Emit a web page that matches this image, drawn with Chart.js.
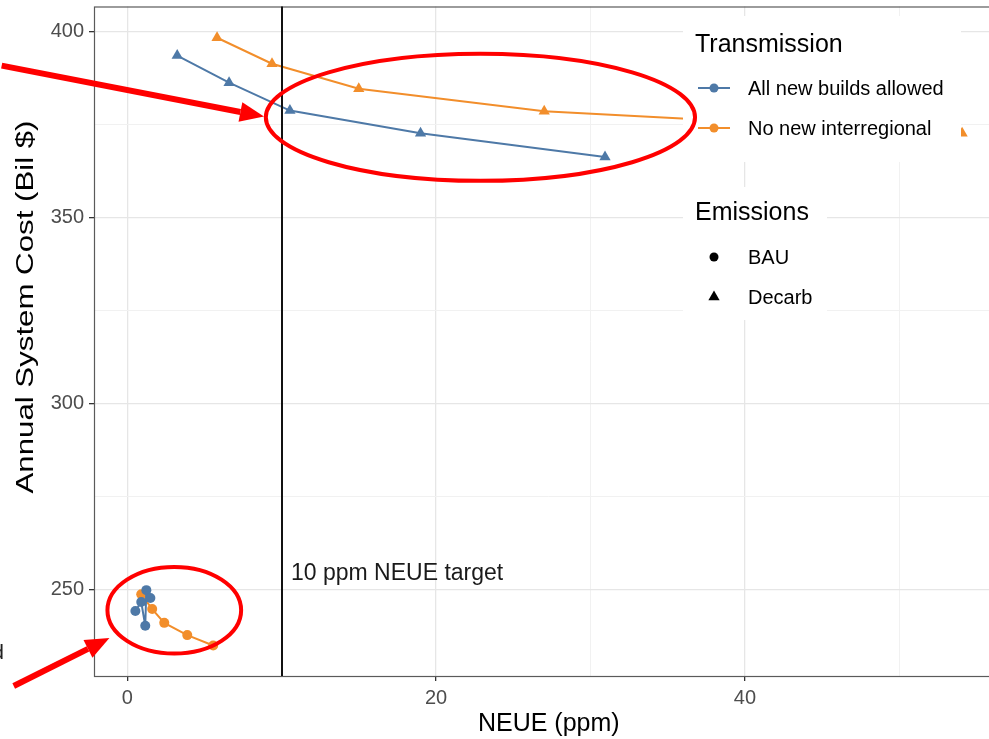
<!DOCTYPE html>
<html>
<head>
<meta charset="utf-8">
<script src="https://cdn.jsdelivr.net/npm/chart.js@4.4.0/dist/chart.umd.min.js"></script>
<style>
  html, body { margin: 0; padding: 0; background: #fff; overflow: hidden; }
  #wrap { width: 1010px; height: 739px; }
</style>
</head>
<body>
<div id="wrap"><canvas id="costChart"></canvas></div>
<script>
// NEUE (ppm) against annual system cost (Bil $) for each scenario
const bauAllNeue = [0.52, 0.90, 1.16, 1.23, 1.49];
const bauAllCost = [244.2, 246.6, 240.2, 249.8, 247.7];
const bauNoInterNeue = [0.90, 1.61, 2.39, 3.88, 5.56];
const bauNoInterCost = [248.7, 244.7, 241.0, 237.7, 234.9];
const decarbAllNeue = [3.23, 6.59, 10.53, 18.99, 30.94];
const decarbAllCost = [393.6, 386.3, 378.8, 372.7, 366.3];
const decarbNoInterNeue = [5.81, 9.37, 14.99, 27.0, 54.07];
const decarbNoInterCost = [398.4, 391.4, 384.7, 378.6, 372.7];

const transmissionLabels = ["All new builds allowed", "No new interregional"];
const emissionsLabels = ["BAU", "Decarb"];
const xTickLabels = [0, 20, 40];
const yTickLabels = [250, 300, 350, 400];
const neueTarget = 10;
const targetLabel = "10 ppm NEUE target";

const BLUE = "#4E79A7";
const ORANGE = "#F28E2B";
const FONT = "'Liberation Sans', Arial, Helvetica, sans-serif";

function pts(xs, ys) {
  return xs.map((x, i) => ({ x: x, y: ys[i] }));
}

function series(label, xs, ys, color, shape) {
  return {
    label: label,
    data: pts(xs, ys),
    showLine: true,
    borderColor: color,
    backgroundColor: color,
    borderWidth: 2,
    pointStyle: shape,
    pointRadius: shape === "triangle" ? 6.5 : 5,
    pointBorderWidth: 0,
    tension: 0
  };
}

// red callouts: ellipses and arrows, placed in data units
const callouts = {
  ellipses: [
    { x: 22.87, y: 377.0, rx: 13.9, ry: 17.1 },
    { x: 3.04, y: 244.4, rx: 4.33, ry: 11.65 }
  ],
  arrows: [
    { fromX: -8.14, fromY: 390.9, toX: 8.85, toY: 377.2 },
    { fromX: -7.36, fromY: 224.0, toX: -1.16, toY: 236.9 }
  ]
};

function drawArrow(ctx, x1, y1, x2, y2) {
  const ang = Math.atan2(y2 - y1, x2 - x1);
  const head = 24, half = 10;
  const bx = x2 - Math.cos(ang) * head, by = y2 - Math.sin(ang) * head;
  ctx.beginPath();
  ctx.moveTo(x1, y1);
  ctx.lineTo(bx, by);
  ctx.stroke();
  ctx.beginPath();
  ctx.moveTo(x2, y2);
  ctx.lineTo(bx + Math.sin(ang) * half, by - Math.cos(ang) * half);
  ctx.lineTo(bx - Math.sin(ang) * half, by + Math.cos(ang) * half);
  ctx.closePath();
  ctx.fill();
}

function drawMarker(ctx, shape, x, y, r, color) {
  ctx.fillStyle = color;
  ctx.beginPath();
  if (shape === "triangle") {
    ctx.moveTo(x, y - r);
    ctx.lineTo(x + r * 0.866, y + r / 2);
    ctx.lineTo(x - r * 0.866, y + r / 2);
    ctx.closePath();
  } else {
    ctx.arc(x, y, r, 0, Math.PI * 2);
  }
  ctx.fill();
}

function noPadding(s) {
  s.paddingTop = 0;
  s.paddingBottom = 0;
  s.paddingLeft = 0;
  s.paddingRight = 0;
}

const panelPlugin = {
  id: "panel",
  beforeDatasetsDraw(chart) {
    const { ctx, chartArea: a } = chart;
    ctx.save();
    ctx.strokeStyle = "#5a5a5a";
    ctx.lineWidth = 1.2;
    ctx.strokeRect(a.left + 0.5, a.top + 0.5, a.right - a.left, a.bottom - a.top);
    ctx.restore();
  },
  afterDatasetsDraw(chart) {
    const { ctx, chartArea: a, scales } = chart;
    const px = Math.round(scales.x.getPixelForValue(neueTarget));
    ctx.save();
    ctx.strokeStyle = "#111";
    ctx.lineWidth = 2;
    ctx.beginPath();
    ctx.moveTo(px, a.top);
    ctx.lineTo(px, a.bottom);
    ctx.stroke();
    ctx.fillStyle = "#1a1a1a";
    ctx.font = "23px " + FONT;
    ctx.textBaseline = "middle";
    ctx.textAlign = "left";
    ctx.fillText(targetLabel, scales.x.getPixelForValue(neueTarget + 0.6), scales.y.getPixelForValue(254.2));
    ctx.restore();
  },
  afterDraw(chart) {
    const { ctx, scales } = chart;
    const x = scales.x, y = scales.y;
    ctx.save();

    // y axis title, drawn long and narrow
    ctx.save();
    ctx.translate(27, 307);
    ctx.rotate(-Math.PI / 2);
    ctx.font = "23px " + FONT;
    const yTitle = "Annual System Cost (Bil $)";
    const sx = 373 / ctx.measureText(yTitle).width;
    ctx.scale(sx, 1);
    ctx.fillStyle = "#000";
    ctx.textAlign = "center";
    ctx.textBaseline = "middle";
    ctx.fillText(yTitle, 0, 0);
    ctx.restore();

    // legends
    ctx.fillStyle = "#fff";
    ctx.fillRect(683, 16, 278, 146);
    ctx.fillRect(683, 187, 144, 133);
    ctx.fillStyle = "#000";
    ctx.textAlign = "left";
    ctx.textBaseline = "alphabetic";
    ctx.font = "25px " + FONT;
    ctx.fillText("Transmission", 695, 52);
    ctx.fillText("Emissions", 695, 220);
    ctx.font = "20px " + FONT;
    const keyColors = [BLUE, ORANGE];
    transmissionLabels.forEach((t, i) => {
      const ky = 88 + i * 40;
      ctx.strokeStyle = keyColors[i];
      ctx.lineWidth = 2;
      ctx.beginPath();
      ctx.moveTo(698, ky);
      ctx.lineTo(730, ky);
      ctx.stroke();
      drawMarker(ctx, "circle", 714, ky, 4.5, keyColors[i]);
      ctx.fillStyle = "#000";
      ctx.fillText(t, 748, ky + 7);
    });
    emissionsLabels.forEach((t, i) => {
      const ky = 257 + i * 40;
      drawMarker(ctx, i === 0 ? "circle" : "triangle", 714, ky, i === 0 ? 4.5 : 6.5, "#000");
      ctx.fillStyle = "#000";
      ctx.fillText(t, 748, ky + 7);
    });

    // red callouts
    ctx.strokeStyle = "#ff0000";
    ctx.fillStyle = "#ff0000";
    ctx.lineWidth = 4;
    callouts.ellipses.forEach(e => {
      const cx = x.getPixelForValue(e.x), cy = y.getPixelForValue(e.y);
      const rx = Math.abs(x.getPixelForValue(e.x + e.rx) - cx);
      const ry = Math.abs(y.getPixelForValue(e.y + e.ry) - cy);
      ctx.beginPath();
      ctx.ellipse(cx, cy, rx, ry, 0, 0, Math.PI * 2);
      ctx.stroke();
    });
    ctx.lineWidth = 6;
    callouts.arrows.forEach(a => {
      drawArrow(ctx, x.getPixelForValue(a.fromX), y.getPixelForValue(a.fromY),
        x.getPixelForValue(a.toX), y.getPixelForValue(a.toY));
    });

    // tail of a caption that runs off the left edge
    ctx.fillStyle = "#222";
    ctx.font = "21px " + FONT;
    ctx.textAlign = "right";
    ctx.fillText("d", 4, 659);
    ctx.restore();
  }
};

new Chart(document.getElementById("costChart"), {
  type: "scatter",
  data: {
    datasets: [
      series("BAU / " + transmissionLabels[0], bauAllNeue, bauAllCost, BLUE, "circle"),
      series("BAU / " + transmissionLabels[1], bauNoInterNeue, bauNoInterCost, ORANGE, "circle"),
      series("Decarb / " + transmissionLabels[0], decarbAllNeue, decarbAllCost, BLUE, "triangle"),
      series("Decarb / " + transmissionLabels[1], decarbNoInterNeue, decarbNoInterCost, ORANGE, "triangle")
    ]
  },
  options: {
    responsive: true,
    maintainAspectRatio: false,
    devicePixelRatio: 1,
    animation: false,
    layout: { padding: { top: 5, right: 5, left: 0, bottom: 0 } },
    plugins: { legend: { display: false }, tooltip: { enabled: false } },
    scales: {
      x: {
        type: "linear",
        min: -2.16,
        max: 56.75,
        afterFit: (s) => { s.height = 63; noPadding(s); },
        border: { display: false },
        grid: {
          color: (c) => xTickLabels.includes(c.tick.value) ? "#e6e6e6" : "#f1f1f1",
          lineWidth: (c) => xTickLabels.includes(c.tick.value) ? 1.3 : 1,
          tickColor: (c) => xTickLabels.includes(c.tick.value) ? "#333" : "rgba(0,0,0,0)",
          tickLength: 5
        },
        ticks: {
          stepSize: 10,
          includeBounds: false,
          maxRotation: 0,
          autoSkip: false,
          padding: 5,
          color: "#4d4d4d",
          font: { family: FONT, size: 20 },
          callback: (v) => xTickLabels.includes(v) ? String(v) : ""
        },
        title: {
          display: true,
          text: "NEUE (ppm)",
          color: "#000",
          font: { family: FONT, size: 25 },
          padding: { top: 2, bottom: 0 }
        }
      },
      y: {
        type: "linear",
        min: 226.7,
        max: 406.8,
        afterFit: (s) => { s.width = 94; noPadding(s); },
        border: { display: false },
        grid: {
          color: (c) => yTickLabels.includes(c.tick.value) ? "#e6e6e6" : "#f1f1f1",
          lineWidth: (c) => yTickLabels.includes(c.tick.value) ? 1.3 : 1,
          tickColor: (c) => yTickLabels.includes(c.tick.value) ? "#333" : "rgba(0,0,0,0)",
          tickLength: 5
        },
        ticks: {
          stepSize: 25,
          includeBounds: false,
          autoSkip: false,
          padding: 5,
          color: "#4d4d4d",
          font: { family: FONT, size: 20 },
          callback: (v) => yTickLabels.includes(v) ? String(v) : ""
        }
      }
    }
  },
  plugins: [panelPlugin]
});
</script>
</body>
</html>
